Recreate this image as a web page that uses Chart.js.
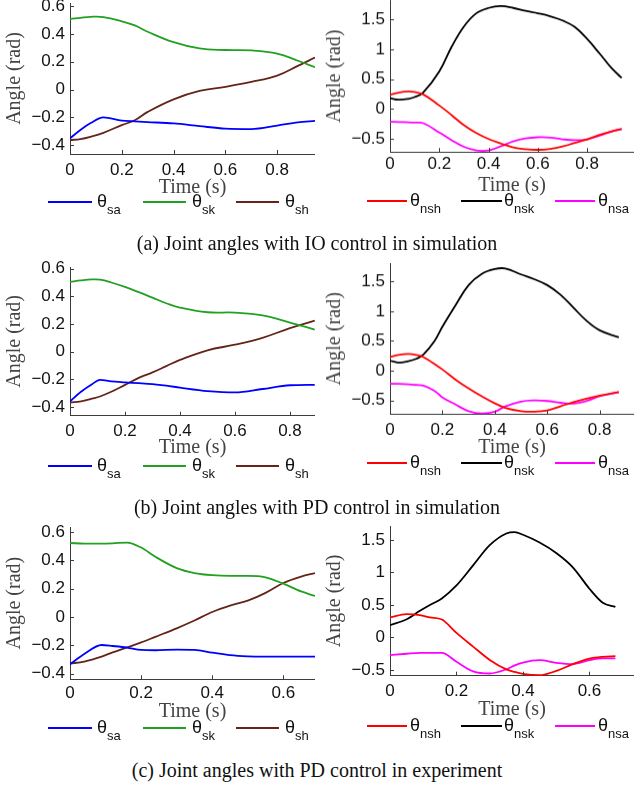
<!DOCTYPE html>
<html>
<head>
<meta charset="utf-8">
<script src="https://cdn.jsdelivr.net/npm/chart.js@4.4.1/dist/chart.umd.min.js"></script>
<style>
  body { margin: 0; width: 634px; height: 788px; position: relative; overflow: hidden; background: #fff; }
  canvas { position: absolute; }
  .cap { position: absolute; left: 0; width: 634px; text-align: center; font: 20px "Liberation Serif", serif; color: #111; line-height: 24px; }
  .lg-line { position: absolute; height: 2px; }
  .lg-txt { position: absolute; font: 18px "Liberation Sans", Arial, sans-serif; color: #111; line-height: 20px; white-space: nowrap; }
  .lg-txt .sub { font-size: 13px; position: relative; top: 7px; }
</style>
</head>
<body>
<script>
// Joint angle trajectories

// (a) IO control in simulation - stance leg
const tA = [0, 0.04, 0.08, 0.129, 0.2, 0.25, 0.3, 0.4, 0.5, 0.6, 0.7, 0.8, 0.88, 0.946];
const saA = [-0.35, -0.29, -0.24, -0.20, -0.222, -0.228, -0.233, -0.243, -0.262, -0.28, -0.283, -0.258, -0.235, -0.224];
const skA = [0.507, 0.515, 0.522, 0.52, 0.49, 0.46, 0.415, 0.34, 0.295, 0.284, 0.281, 0.258, 0.207, 0.16];
const shA = [-0.362, -0.355, -0.338, -0.31, -0.255, -0.22, -0.16, -0.07, -0.01, 0.02, 0.055, 0.1, 0.17, 0.23];
// (a) swing leg
const tA2 = [0, 0.035, 0.074, 0.1, 0.135, 0.2, 0.25, 0.3, 0.35, 0.4, 0.45, 0.5, 0.55, 0.6, 0.65, 0.7, 0.75, 0.8, 0.85, 0.9, 0.94];
const nshA = [0.239, 0.275, 0.294, 0.285, 0.245, 0.06, -0.1, -0.27, -0.4, -0.5, -0.575, -0.64, -0.67, -0.68, -0.665, -0.625, -0.565, -0.505, -0.43, -0.37, -0.335];
const nskA = [0.183, 0.156, 0.17, 0.2, 0.28, 0.63, 1.04, 1.38, 1.6, 1.69, 1.72, 1.69, 1.64, 1.6, 1.55, 1.48, 1.37, 1.17, 0.93, 0.68, 0.52];
const nsaA = [-0.211, -0.215, -0.22, -0.225, -0.235, -0.39, -0.52, -0.63, -0.69, -0.69, -0.62, -0.54, -0.49, -0.47, -0.475, -0.505, -0.52, -0.505, -0.445, -0.37, -0.335];

// (b) PD control in simulation - stance leg
const tB = [0, 0.04, 0.08, 0.109, 0.15, 0.2, 0.25, 0.3, 0.35, 0.4, 0.5, 0.6, 0.7, 0.8, 0.89];
const saB = [-0.36, -0.29, -0.235, -0.204, -0.215, -0.222, -0.228, -0.235, -0.246, -0.26, -0.285, -0.295, -0.27, -0.243, -0.24];
const skB = [0.505, 0.515, 0.522, 0.52, 0.5, 0.468, 0.43, 0.39, 0.35, 0.318, 0.285, 0.282, 0.262, 0.21, 0.16];
const shB = [-0.367, -0.36, -0.34, -0.324, -0.29, -0.24, -0.19, -0.15, -0.105, -0.06, 0.01, 0.05, 0.1, 0.17, 0.225];
// (b) swing leg
const tB2 = [0, 0.032, 0.07, 0.1, 0.127, 0.17, 0.2, 0.25, 0.3, 0.35, 0.4, 0.44, 0.5, 0.55, 0.6, 0.65, 0.7, 0.75, 0.8, 0.873];
const nshB = [0.23, 0.265, 0.281, 0.265, 0.23, 0.11, 0.02, -0.15, -0.3, -0.43, -0.55, -0.625, -0.68, -0.69, -0.67, -0.6, -0.53, -0.47, -0.42, -0.36];
const nskB = [0.169, 0.135, 0.16, 0.2, 0.27, 0.5, 0.74, 1.1, 1.44, 1.63, 1.71, 1.72, 1.62, 1.54, 1.44, 1.28, 1.06, 0.84, 0.68, 0.56];
const nsaB = [-0.219, -0.222, -0.23, -0.24, -0.25, -0.34, -0.45, -0.57, -0.68, -0.72, -0.69, -0.6, -0.52, -0.5, -0.51, -0.54, -0.555, -0.51, -0.43, -0.36];

// (c) PD control in experiment - stance leg
const tC = [0, 0.04, 0.089, 0.12, 0.16, 0.2, 0.24, 0.3, 0.35, 0.4, 0.45, 0.5, 0.55, 0.6, 0.65, 0.689];
const saC = [-0.334, -0.262, -0.198, -0.205, -0.216, -0.233, -0.235, -0.23, -0.233, -0.252, -0.27, -0.278, -0.28, -0.28, -0.28, -0.28];
const skC = [0.522, 0.518, 0.518, 0.52, 0.525, 0.49, 0.425, 0.345, 0.31, 0.295, 0.29, 0.29, 0.28, 0.235, 0.18, 0.148];
const shC = [-0.329, -0.315, -0.28, -0.25, -0.215, -0.18, -0.14, -0.08, -0.025, 0.035, 0.08, 0.115, 0.17, 0.24, 0.285, 0.31];
// (c) swing leg
const tC2 = [0, 0.05, 0.09, 0.12, 0.156, 0.2, 0.25, 0.3, 0.35, 0.375, 0.4, 0.45, 0.5, 0.55, 0.6, 0.64, 0.678];
const nshC = [0.308, 0.36, 0.345, 0.31, 0.277, 0.07, -0.14, -0.345, -0.49, -0.53, -0.56, -0.58, -0.515, -0.41, -0.325, -0.297, -0.287];
const nskC = [0.19, 0.28, 0.41, 0.5, 0.6, 0.8, 1.11, 1.42, 1.6, 1.62, 1.58, 1.46, 1.3, 1.08, 0.75, 0.535, 0.47];
const nsaC = [-0.272, -0.25, -0.236, -0.236, -0.236, -0.374, -0.52, -0.554, -0.49, -0.43, -0.385, -0.349, -0.39, -0.41, -0.35, -0.323, -0.323];

// axis ticks
const timeTicks = [0, 0.2, 0.4, 0.6, 0.8];
const stanceTicks = [-0.4, -0.2, 0, 0.2, 0.4, 0.6];
const swingTicks = [-0.5, 0, 0.5, 1, 1.5];

// legend names and captions
const stanceNames = ['sa', 'sk', 'sh'];
const swingNames = ['nsh', 'nsk', 'nsa'];
const stanceColors = ['#0000ff', '#22a022', '#642419'];
const swingColors = ['#ff0000', '#000000', '#ff00ff'];
const captions = [
  '(a) Joint angles with IO control in simulation',
  '(b) Joint angles with PD control in simulation',
  '(c) Joint angles with PD control in experiment'
];

const AXIS_COLOR = '#3c3c3c';
const TICK_FONT = { family: '"Liberation Sans", Arial, sans-serif', size: 17 };
const TITLE_FONT = { family: '"Liberation Serif", "Times New Roman", serif', size: 20 };

// small inward tick marks, MATLAB style
const innerTicks = {
  id: 'innerTicks',
  afterDraw(chart) {
    const { ctx, chartArea: a, scales: { x, y } } = chart;
    ctx.save();
    ctx.strokeStyle = AXIS_COLOR;
    ctx.lineWidth = 1;
    ctx.beginPath();
    x.ticks.forEach(t => {
      const px = Math.round(x.getPixelForValue(t.value)) + 0.5;
      ctx.moveTo(px, a.bottom);
      ctx.lineTo(px, a.bottom - 4);
    });
    y.ticks.forEach(t => {
      const py = Math.round(y.getPixelForValue(t.value)) + 0.5;
      ctx.moveTo(a.left, py);
      ctx.lineTo(a.left + 4, py);
    });
    ctx.stroke();
    ctx.restore();
  }
};

function fmt(v) {
  const r = Math.round(v * 10) / 10;
  return r < 0 ? '\u2212' + String(-r) : String(r);
}

function buildPanel(p) {
  const padTop = 20;
  const cy = p.T - padTop;
  const xAxisH = p.titleY - p.B + 12;
  const W = p.R - p.cx;
  const H = p.B - cy + xAxisH;

  const cv = document.createElement('canvas');
  cv.width = W;
  cv.height = H;
  cv.style.left = p.cx + 'px';
  cv.style.top = cy + 'px';
  cv.style.width = W + 'px';
  cv.style.height = H + 'px';
  document.body.appendChild(cv);

  // the ankle curves have a sharp corner, keep them monotone; the rest smooth
  const datasets = p.series.map((vals, i) => ({
    label: p.names[i],
    data: p.time.map((t, k) => ({ x: t, y: vals[k] })),
    borderColor: p.colors[i],
    borderWidth: 1.8,
    pointRadius: 0,
    fill: false,
    cubicInterpolationMode: (p.names[i] === 'sa' || p.experiment) ? 'monotone' : 'default',
    tension: 0.4
  }));

  new Chart(cv, {
    type: 'line',
    data: { datasets },
    options: {
      responsive: false,
      animation: false,
      devicePixelRatio: 1,
      layout: { padding: { top: padTop, right: 0, left: 0, bottom: 0 } },
      plugins: { legend: { display: false }, tooltip: { enabled: false } },
      scales: {
        x: {
          type: 'linear',
          min: 0,
          max: p.xMax,
          grid: { display: false, drawTicks: false },
          border: { display: true, color: AXIS_COLOR, width: 1 },
          afterBuildTicks: s => { s.ticks = timeTicks.filter(v => v <= p.xMax).map(v => ({ value: v })); },
          ticks: { padding: p.xPad, font: TICK_FONT, color: '#111', maxRotation: 0, callback: v => fmt(v) },
          title: { display: true, text: 'Time (s)', font: TITLE_FONT, color: '#444', padding: 0 },
          afterFit: s => { s.height = xAxisH; }
        },
        y: {
          type: 'linear',
          min: p.yMin,
          max: p.yMax,
          grid: { display: false, drawTicks: false },
          border: { display: true, color: AXIS_COLOR, width: 1 },
          afterBuildTicks: s => { s.ticks = p.yTicks.map(v => ({ value: v })); },
          ticks: { padding: 5, font: TICK_FONT, color: '#111', callback: v => fmt(v) },
          title: { display: true, text: 'Angle (rad)', font: TITLE_FONT, color: '#444', padding: { top: p.yTitlePad, bottom: 0 } },
          afterFit: s => { s.width = p.L - p.cx; }
        }
      }
    },
    plugins: [innerTicks]
  });

  // legend below the axes
  p.legend.lines.forEach((ln, i) => {
    const d = document.createElement('div');
    d.className = 'lg-line';
    d.style.left = ln[0] + 'px';
    d.style.width = (ln[1] - ln[0]) + 'px';
    d.style.top = (p.legend.y - 1) + 'px';
    d.style.background = p.colors[i];
    document.body.appendChild(d);

    const s = document.createElement('span');
    s.className = 'lg-txt';
    s.style.left = p.legend.text[i] + 'px';
    s.style.top = (p.legend.y - 11) + 'px';
    s.innerHTML = '\u03b8<span class="sub">' + p.names[i] + '</span>';
    document.body.appendChild(s);
  });
}

const leftLegendLines = [[48, 92], [143, 186], [236, 279]];
const leftLegendText = [97, 192, 285];
const rightLegendLines = [[367, 407], [461, 502], [555, 595]];
const rightLegendText = [410, 504, 598];

const panels = [
  { cx: 0, L: 70, T: 3, R: 315, B: 154, yMin: -0.462, yMax: 0.621, xMax: 0.946, xPad: 6.5, titleY: 188, yTitlePad: 3,
    yTicks: stanceTicks, time: tA, series: [saA, skA, shA], names: stanceNames, colors: stanceColors,
    legend: { y: 201.5, lines: leftLegendLines, text: leftLegendText } },
  { cx: 317, L: 390, T: 0, R: 634, B: 151.7, yMin: -0.717, yMax: 1.82, xMax: 0.99, xPad: 2, titleY: 185.5, yTitlePad: 6,
    yTicks: swingTicks, time: tA2, series: [nshA, nskA, nsaA], names: swingNames, colors: swingColors,
    legend: { y: 201, lines: rightLegendLines, text: rightLegendText } },
  { cx: 0, L: 70, T: 266.7, R: 315, B: 416, yMin: -0.463, yMax: 0.612, xMax: 0.891, xPad: 5, titleY: 448.3, yTitlePad: 3,
    yTicks: stanceTicks, time: tB, series: [saB, skB, shB], names: stanceNames, colors: stanceColors,
    legend: { y: 465.5, lines: leftLegendLines, text: leftLegendText } },
  { cx: 317, L: 390, T: 263.3, R: 634, B: 414.3, yMin: -0.736, yMax: 1.81, xMax: 0.931, xPad: 5.5, titleY: 447.7, yTitlePad: 6,
    yTicks: swingTicks, time: tB2, series: [nshB, nskB, nsaB], names: swingNames, colors: swingColors,
    legend: { y: 463.3, lines: rightLegendLines, text: rightLegendText } },
  { cx: 0, L: 70, T: 526.7, R: 315, B: 679, yMin: -0.44, yMax: 0.635, xMax: 0.689, xPad: 4, titleY: 711.7, yTitlePad: 3, experiment: true,
    yTicks: stanceTicks, time: tC, series: [saC, skC, shC], names: stanceNames, colors: stanceColors,
    legend: { y: 728.3, lines: leftLegendLines, text: leftLegendText } },
  { cx: 317, L: 390, T: 526, R: 634, B: 675.7, yMin: -0.588, yMax: 1.715, xMax: 0.734, xPad: 5.8, titleY: 710, yTitlePad: 6, experiment: true,
    yTicks: swingTicks, time: tC2, series: [nshC, nskC, nsaC], names: swingNames, colors: swingColors,
    legend: { y: 726, lines: rightLegendLines, text: rightLegendText } }
];

panels.forEach(buildPanel);

const captionY = [243, 507, 770];
captions.forEach((txt, i) => {
  const c = document.createElement('div');
  c.className = 'cap';
  c.style.top = (captionY[i] - 12) + 'px';
  c.textContent = txt;
  document.body.appendChild(c);
});
</script>
</body>
</html>
